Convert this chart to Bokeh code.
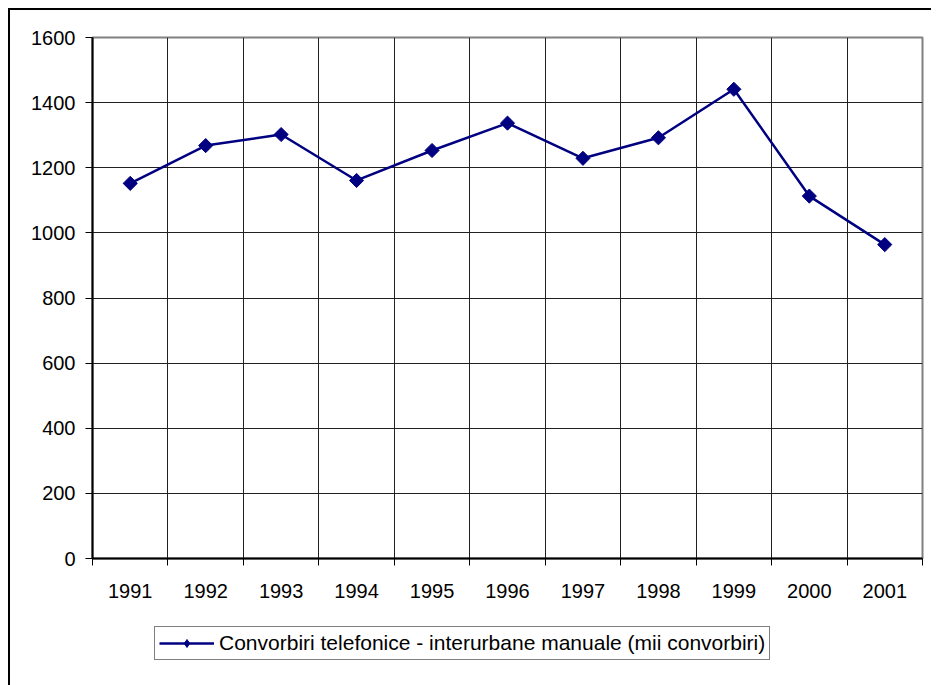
import math
from bokeh.plotting import figure
from bokeh.layouts import column
from bokeh.models import FixedTicker, Legend, LegendItem, Range1d
from bokeh.embed import file_html
from bokeh.resources import INLINE

years = ["1991", "1992", "1993", "1994", "1995", "1996", "1997", "1998", "1999", "2000", "2001"]
values = [1152, 1268, 1302, 1161, 1253, 1337, 1229, 1292, 1441, 1113, 964]
y_ticks = [0, 200, 400, 600, 800, 1000, 1200, 1400, 1600]
series_name = "Convorbiri telefonice - interurbane manuale (mii convorbiri)"

FONT = "Liberation Sans"
FS = "20px"
NAVY = "#000080"

n = len(years)
xs = [i + 0.5 for i in range(n)]

p = figure(frame_width=830, frame_height=521, output_backend="svg", toolbar_location=None,
           x_range=Range1d(0, n), y_range=Range1d(0, 1600),
           min_border_left=82, min_border_right=9, min_border_top=27, min_border_bottom=50)

p.outline_line_color = "#808080"
p.outline_line_width = 2
p.background_fill_color = "white"
p.border_fill_color = "white"

# x axis
xax = p.xaxis[0]
xax.ticker = FixedTicker(ticks=xs, minor_ticks=list(range(n + 1)))
xax.major_label_overrides = {x: y for x, y in zip(xs, years)}
xax.major_tick_out = 0
xax.major_tick_in = 0
xax.minor_tick_out = 7
xax.minor_tick_in = 0
xax.minor_tick_line_color = "black"
xax.minor_tick_line_width = 1
xax.axis_line_color = "black"
xax.axis_line_width = 2
xax.major_label_text_font = FONT
xax.major_label_text_font_size = FS
xax.major_label_text_color = "black"
xax.major_label_standoff = 18

# y axis
yax = p.yaxis[0]
yax.ticker = FixedTicker(ticks=y_ticks, minor_ticks=[])
yax.major_tick_out = 7
yax.major_tick_in = 0
yax.major_tick_line_color = "black"
yax.axis_line_color = "black"
yax.axis_line_width = 2
yax.major_label_text_font = FONT
yax.major_label_text_font_size = FS
yax.major_label_text_color = "black"
yax.major_label_standoff = 10

p.xgrid.ticker = FixedTicker(ticks=list(range(1, n)))
p.xgrid.grid_line_color = "#202020"
p.xgrid.grid_line_width = 1
p.ygrid.ticker = FixedTicker(ticks=y_ticks[1:-1])
p.ygrid.grid_line_color = "#202020"
p.ygrid.grid_line_width = 1

p.line(xs, values, line_color=NAVY, line_width=2.5)
p.scatter(xs, values, marker="square", angle=math.pi / 4, size=10,
          fill_color=NAVY, line_color=NAVY)

# legend area (separate strip below the chart); proxy glyphs lie outside its range
lg = figure(width=921, height=77, output_backend="svg", toolbar_location=None,
            x_axis_type=None, y_axis_type=None, x_range=Range1d(0, 1), y_range=Range1d(0, 1),
            min_border=0)
lg.outline_line_color = None
lg.xgrid.visible = False
lg.ygrid.visible = False
lg_line = lg.line([-10, -9], [-10, -10], line_color=NAVY, line_width=2.5)
lg_marks = lg.scatter([-10], [-10], marker="diamond", size=14,
                      fill_color=NAVY, line_color=NAVY)

legend = Legend(items=[LegendItem(label=series_name, renderers=[lg_line, lg_marks])],
                location=(62, 25), orientation="horizontal",
                border_line_color="black", border_line_width=1,
                label_text_font=FONT, label_text_font_size="21px", label_text_color="black",
                glyph_width=55, glyph_height=20, label_standoff=5,
                padding=4, margin=0, spacing=0, background_fill_alpha=1)
lg.add_layout(legend, "center")

layout = column(p, lg, spacing=0)
layout.styles = {"margin-left": "8px", "margin-top": "8px",
                 "border-left": "2px solid black", "border-top": "2px solid black"}

open("out.html", "w").write(file_html(layout, INLINE))
